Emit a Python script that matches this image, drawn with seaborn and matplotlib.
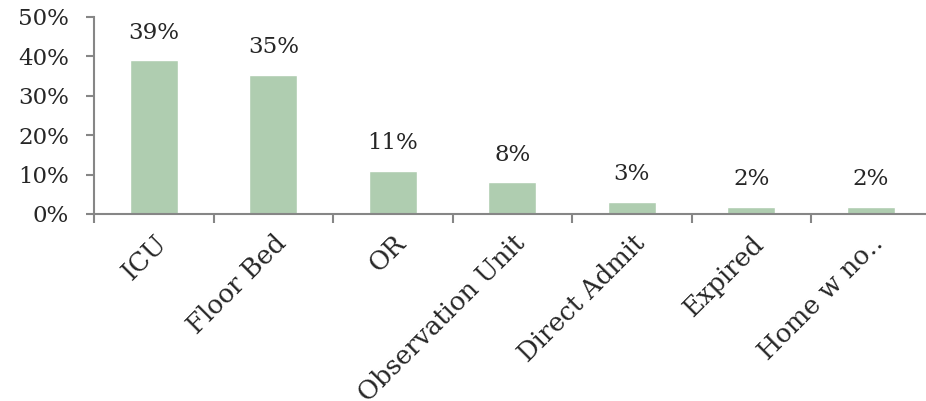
import numpy as np
import pandas as pd
import matplotlib
matplotlib.use("Agg")
import matplotlib.pyplot as plt
import seaborn as sns
from matplotlib.ticker import FuncFormatter, FixedLocator

CATEGORIES = ["ICU", "Floor Bed", "OR", "Observation Unit", "Direct Admit",
              "Expired", "Home w no\u2025"]
SHARES = [39.0, 35.4, 11.0, 8.0, 3.0, 1.8, 1.8]
Y_TICKS = [0, 10, 20, 30, 40, 50]

BAR_COLOR = "#afcdb0"
AXIS_COLOR = "#868686"
FS = 16.5

sns.set_style("white")
plt.rcParams["font.family"] = ["DejaVu Serif"]

df = pd.DataFrame({"category": CATEGORIES, "share": SHARES})

fig = plt.figure(figsize=(9.26, 4.01), dpi=100)
ax = fig.add_axes([94 / 926, 1 - 214 / 401, (930.5 - 94) / 926, 197 / 401])

sns.barplot(data=df, x="category", y="share", color=BAR_COLOR, width=0.4,
            saturation=1, ax=ax)

ax.set_xlim(-0.5, len(CATEGORIES) - 0.5)
ax.set_ylim(0, 50)
ax.set_yticks(Y_TICKS)
ax.yaxis.set_major_formatter(FuncFormatter(lambda v, _: f"{v:.0f}%"))
ax.set_xlabel("")
ax.set_ylabel("")

# category labels at bar centers, tick marks at category boundaries
ax.set_xticks(range(len(CATEGORIES)))
ax.set_xticklabels(CATEGORIES, rotation=45, ha="right", rotation_mode="anchor",
                   fontsize=18.5)
ax.tick_params(axis="x", which="major", length=0, pad=12)
ax.xaxis.set_minor_locator(FixedLocator(np.arange(-0.5, len(CATEGORIES), 1.0)))
ax.tick_params(axis="x", which="minor", length=6.5, width=1.5, color=AXIS_COLOR,
               direction="out", bottom=True)
ax.tick_params(axis="y", length=6, width=1.5, color=AXIS_COLOR, direction="out",
               labelsize=FS, pad=12, left=True)

for side in ["top", "right"]:
    ax.spines[side].set_visible(False)
for side in ["left", "bottom"]:
    ax.spines[side].set_color(AXIS_COLOR)
    ax.spines[side].set_linewidth(1.5)

for i, v in enumerate(SHARES):
    ax.annotate(f"{round(v):.0f}%", xy=(i, v), xytext=(0, 20),
                textcoords="offset points", ha="center", va="center",
                fontsize=FS)

fig.savefig("out.png", dpi=100)
